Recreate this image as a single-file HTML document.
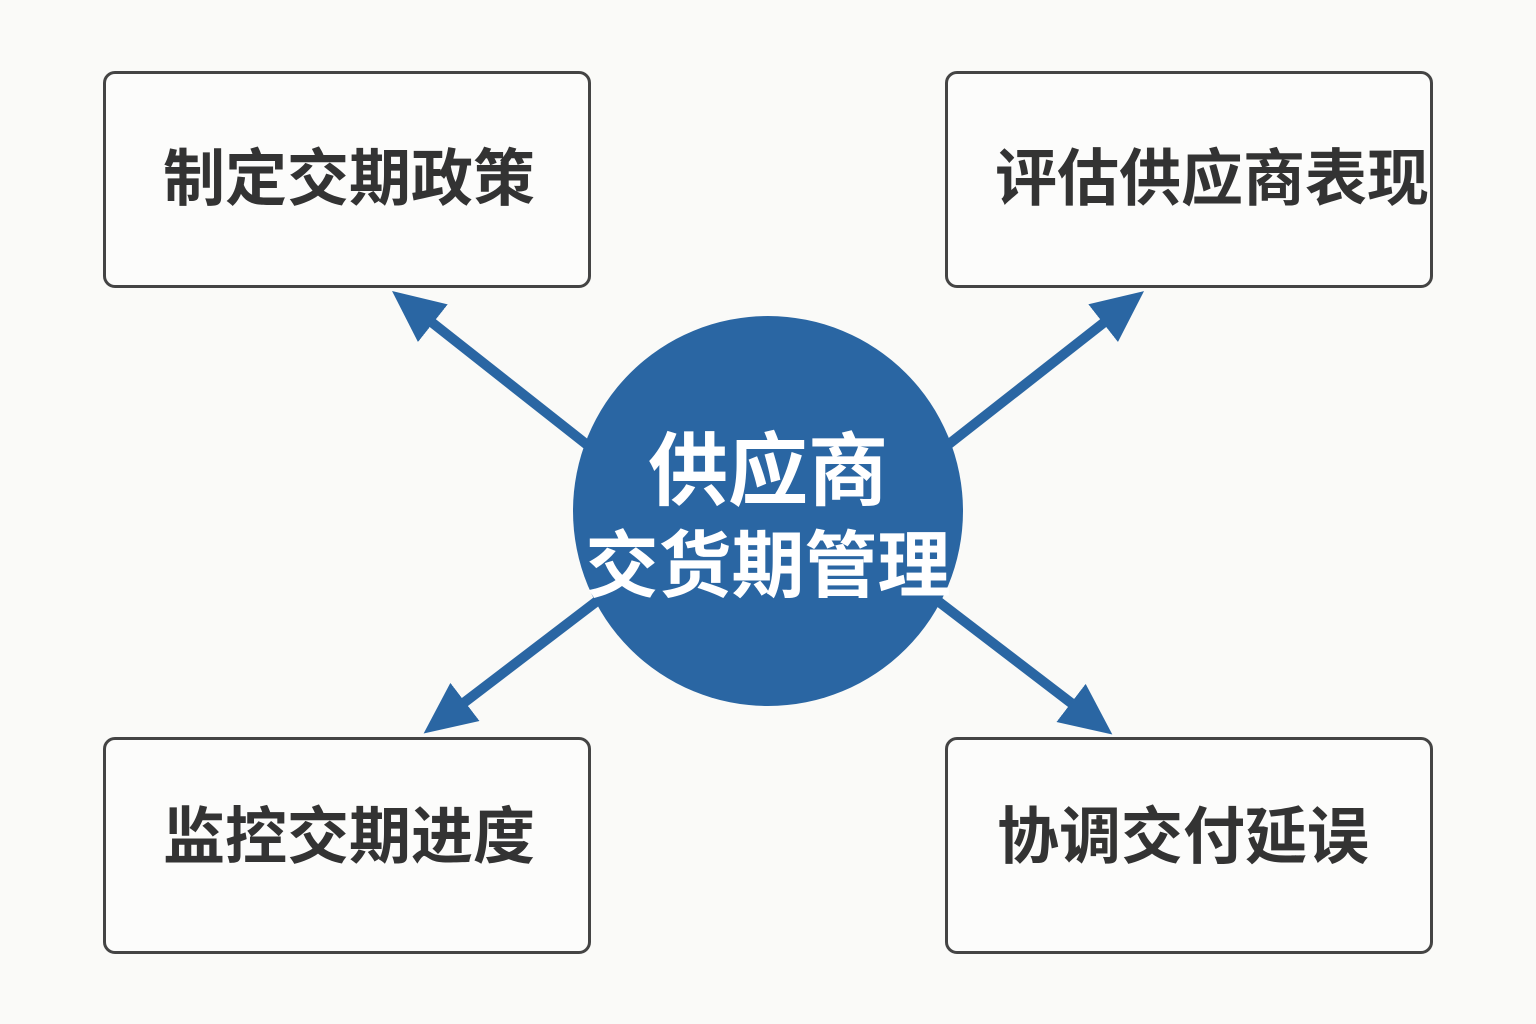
<!DOCTYPE html>
<html><head><meta charset="utf-8"><style>
body{margin:0;width:1536px;height:1024px;background:#fafaf8;overflow:hidden;position:relative;font-family:"Liberation Sans","Noto Sans CJK SC",sans-serif}
.box{position:absolute;width:482px;height:211px;border:3px solid #444;border-radius:12px;box-sizing:content-box;background:#fcfcfb}
.t{position:absolute;font-size:62px;font-weight:bold;color:#333;white-space:nowrap;line-height:1}
.c{position:absolute;color:#fff;font-weight:bold;white-space:nowrap;line-height:1;text-align:center}
</style></head><body>
<div class="box" style="left:103px;top:71px"></div>
<div class="box" style="left:945px;top:71px"></div>
<div class="box" style="left:103px;top:737px"></div>
<div class="box" style="left:945px;top:737px"></div>
<div class="t" style="left:163px;top:149px">制定交期政策</div>
<div class="t" style="left:995px;top:149px">评估供应商表现</div>
<div class="t" style="left:163px;top:807px">监控交期进度</div>
<div class="t" style="left:997px;top:807px">协调交付延误</div>
<svg width="1536" height="1024" style="position:absolute;left:0;top:0">
<defs><marker id="a" markerUnits="userSpaceOnUse" markerWidth="60" markerHeight="60" refX="10" refY="24" orient="auto"><path d="M0,0 L52,24 L0,48 Z" fill="#2a66a3"/></marker></defs>
<g stroke="#2a66a3" stroke-width="10" fill="none">
<line x1="600" y1="455" x2="425" y2="317" marker-end="url(#a)"/>
<line x1="935" y1="455" x2="1111" y2="317" marker-end="url(#a)"/>
<line x1="605" y1="595" x2="457" y2="708" marker-end="url(#a)"/>
<line x1="930" y1="595" x2="1079" y2="709" marker-end="url(#a)"/>
</g>
<circle cx="768" cy="511" r="195" fill="#2a66a3"/>
</svg>
<div class="c" style="left:568px;width:400px;top:432px;font-size:80px">供应商</div>
<div class="c" style="left:568px;width:400px;top:530px;font-size:73px">交货期管理</div>
</body></html>
